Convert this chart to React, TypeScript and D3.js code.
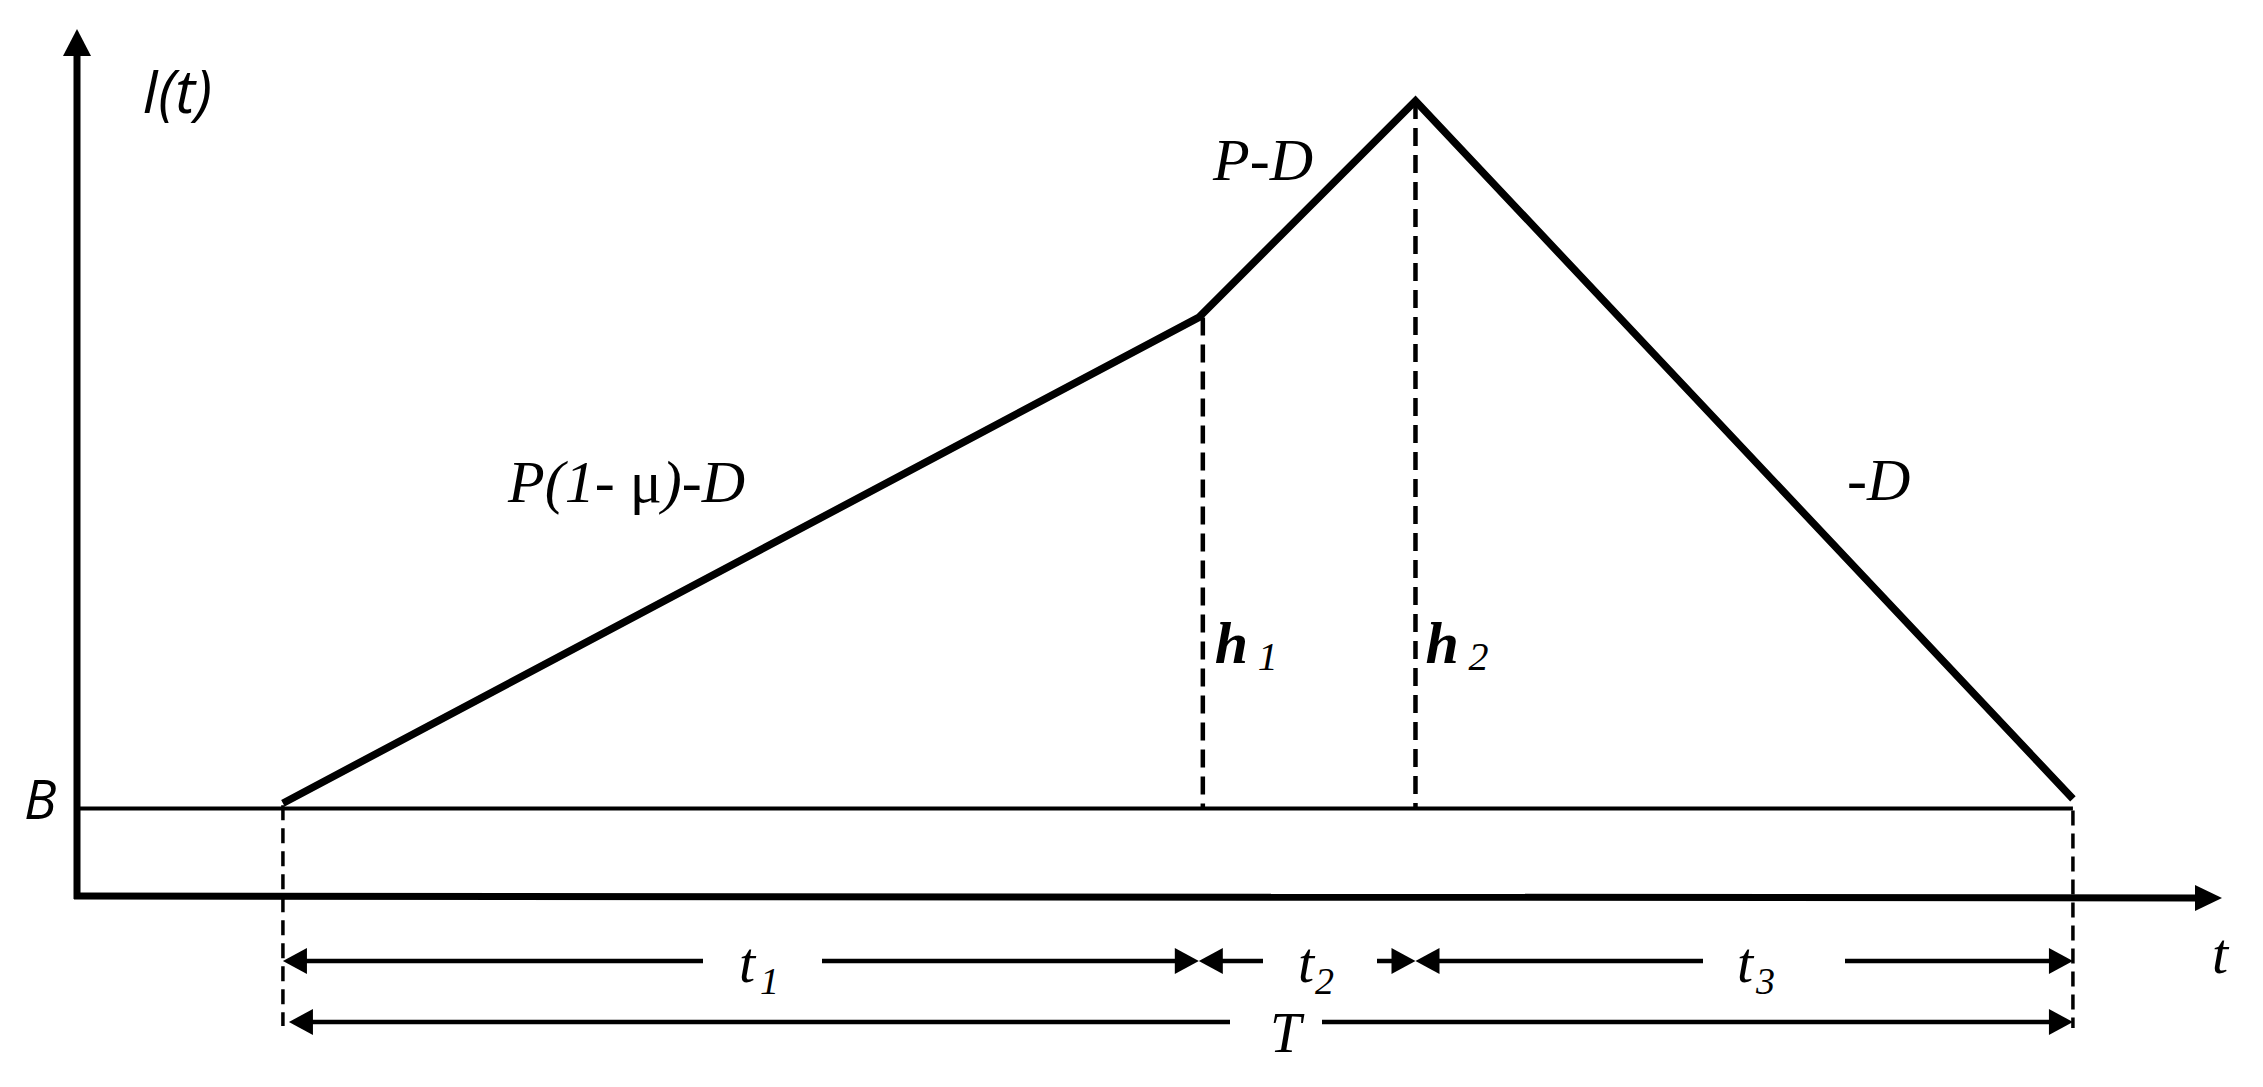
import React from "react";
import * as d3 from "d3";

// ---- data (diagram values, arbitrary units) ----
const startTime = 9.6;               // time where the cycle starts
const durations = [42.7, 10.1, 30.65]; // t1, t2, t3
const levels = [10.6, 66.7, 91.7, 11.1]; // inventory level at each breakpoint
const baseLevel = 10;                 // B
const phaseNames = ["1", "2", "3"];
const slopeLabels = ["P-D", "-D"];
const heightNames = ["1", "2"];

const W = 2263;
const H = 1087;

export default function App() {
  const x = d3.scaleLinear().domain([0, 100]).range([77, 2222]);
  const y = d3.scaleLinear().domain([0, 100]).range([895, 29]);

  const times = [startTime];
  durations.forEach((d) => times.push(times[times.length - 1] + d));
  const pts: [number, number][] = times.map((t, i) => [x(t), y(levels[i])]);
  const line = d3.line();

  const x0 = x(0);
  const yAxisY = 896;
  const xEnd = x(100);
  const yTop = y(100);
  const bY = y(baseLevel);

  const serif = "'Liberation Serif', 'Times New Roman', serif";
  const sans = "'Open Sans', 'DejaVu Sans', sans-serif";

  const row1 = 961;
  const row2 = 1022;
  const ah = 24; // arrowhead length
  const hw = 13; // arrowhead half width

  const headRight = (tx: number, yy: number) =>
    `M${tx},${yy} L${tx - ah},${yy - hw} L${tx - ah},${yy + hw} Z`;
  const headLeft = (tx: number, yy: number) =>
    `M${tx},${yy} L${tx + ah},${yy - hw} L${tx + ah},${yy + hw} Z`;

  const xs = times.map((t) => x(t));
  // label gaps for dimension lines
  const gaps = [
    [703, 822],
    [1263, 1377],
    [1703, 1845],
  ];
  const tLabelPos = [
    [739, 760],
    [1298, 1315],
    [1737, 1756],
  ];

  return (
    <svg
      width={W}
      height={H}
      style={{ position: "absolute", left: 0, top: 0, background: "#fff" }}
    >
      <rect x={0} y={0} width={W} height={H} fill="#fff" />
      {/* Y axis */}
      <line x1={x0} y1={yAxisY + 3} x2={x0} y2={yTop + 26} stroke="#000" strokeWidth={7} />
      <path d={`M${x0},${yTop} L${x0 - 14},${yTop + 27} L${x0 + 14},${yTop + 27} Z`} fill="#000" />
      {/* X axis */}
      <line x1={x0 - 3} y1={yAxisY} x2={xEnd - 26} y2={yAxisY + 2} stroke="#000" strokeWidth={7} />
      <path d={`M${xEnd},${yAxisY + 2} L${xEnd - 27},${yAxisY - 11} L${xEnd - 27},${yAxisY + 15} Z`} fill="#000" />

      {/* B line */}
      <line x1={x0} y1={bY} x2={xs[3]} y2={bY} stroke="#000" strokeWidth={4} />

      {/* dashed verticals */}
      <line x1={xs[0]} y1={pts[0][1] + 2} x2={xs[0]} y2={row2 + 4} stroke="#000" strokeWidth={3.5} strokeDasharray="15 8" />
      <line x1={xs[3]} y1={bY + 2} x2={xs[3]} y2={row2 + 6} stroke="#000" strokeWidth={3.5} strokeDasharray="15 8" />
      <line x1={xs[1] + 4} y1={pts[1][1]} x2={xs[1] + 4} y2={bY} stroke="#000" strokeWidth={4.5} strokeDasharray="18 9" />
      <line x1={xs[2]} y1={pts[2][1]} x2={xs[2]} y2={bY} stroke="#000" strokeWidth={4.5} strokeDasharray="18 9" />

      {/* inventory curve */}
      <path d={line(pts) || ""} fill="none" stroke="#000" strokeWidth={7.5} strokeLinejoin="miter" />

      {/* dimension row 1 */}
      {durations.map((_, i) => {
        const a = xs[i];
        const b = xs[i + 1];
        const [g0, g1] = gaps[i];
        return (
          <g key={i}>
            <line x1={a + ah - 2} y1={row1} x2={g0} y2={row1} stroke="#000" strokeWidth={4.5} />
            <line x1={g1} y1={row1} x2={b - ah + 2} y2={row1} stroke="#000" strokeWidth={4.5} />
            <path d={headLeft(a, row1)} fill="#000" />
            <path d={headRight(b, row1)} fill="#000" />
            <text x={tLabelPos[i][0]} y={982} fontFamily={serif} fontStyle="italic" fontSize={58}>t</text>
            <text x={tLabelPos[i][1]} y={994} fontFamily={serif} fontStyle="italic" fontSize={38}>{phaseNames[i]}</text>
          </g>
        );
      })}

      {/* dimension row 2 : T */}
      <line x1={xs[0] + 6 + ah - 2} y1={row2} x2={1230} y2={row2} stroke="#000" strokeWidth={4.5} />
      <line x1={1322} y1={row2} x2={xs[3] - ah + 2} y2={row2} stroke="#000" strokeWidth={4.5} />
      <path d={headLeft(xs[0] + 6, row2)} fill="#000" />
      <path d={headRight(xs[3], row2)} fill="#000" />
      <text x={1270} y={1052} fontFamily={serif} fontStyle="italic" fontSize={56}>T</text>

      {/* axis labels */}
      <text x={142} y={113} fontFamily={sans} fontStyle="italic" fontSize={60}>I(t)</text>
      <text x={2212} y={973} fontFamily={serif} fontStyle="italic" fontSize={58}>t</text>
      <text x={24} y={819} fontFamily={sans} fontStyle="italic" fontSize={54}>B</text>

      {/* slope labels */}
      <text x={508} y={502} fontFamily={serif} fontStyle="italic" fontSize={60}>
        P(1- <tspan fontStyle="normal">{"\u03bc"}</tspan>)-D
      </text>
      <text x={1213} y={180} fontFamily={serif} fontStyle="italic" fontSize={60}>{slopeLabels[0]}</text>
      <text x={1847} y={500} fontFamily={serif} fontStyle="italic" fontSize={60}>{slopeLabels[1]}</text>

      {/* height labels */}
      {heightNames.map((n, i) => {
        const hx = xs[i + 1] + (i === 0 ? 16 : 10);
        return (
          <g key={n}>
            <text x={hx} y={663} fontFamily={serif} fontStyle="italic" fontWeight="bold" fontSize={60}>h</text>
            <text x={hx + 43} y={670} fontFamily={serif} fontStyle="italic" fontSize={40}>{n}</text>
          </g>
        );
      })}
    </svg>
  );
}
